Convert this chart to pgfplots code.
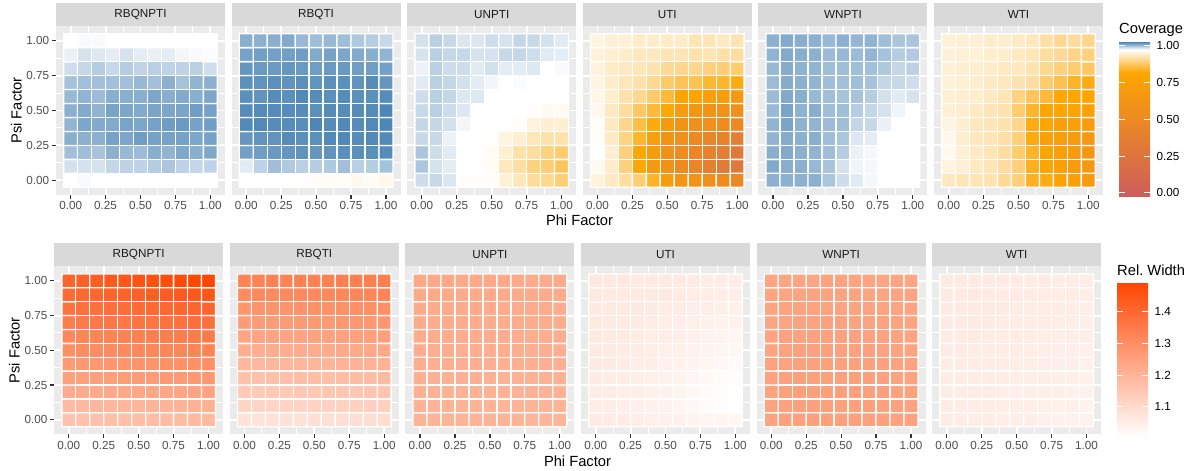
\documentclass[border=0pt]{standalone}
\usepackage{fontspec}
\setmainfont{Liberation Sans}
\usepackage{pgfplots}
\pgfplotsset{compat=1.18}
\definecolor{bgg}{RGB}{235,235,235}
\definecolor{stripg}{RGB}{217,217,217}
\definecolor{txtA}{RGB}{77,77,77}
\definecolor{txtB}{RGB}{26,26,26}
\definecolor{tkc}{RGB}{51,51,51}
\newcommand\ticksz{\fontsize{11.7bp}{13bp}\selectfont}
\newcommand\labsz{\fontsize{14.7bp}{16bp}\selectfont}
\pgfplotsset{
  colormap={cov}{rgb255(0cm)=(205,92,92) rgb255(8cm)=(255,165,0) rgb255(9.5cm)=(255,255,255) rgb255(10cm)=(70,130,180)},
  colormap={rw}{rgb255(0cm)=(255,255,255) rgb255(1cm)=(255,69,0)},
  hm/.style={
    scale only axis, width=169bp, anchor=south west,
    xmin=-0.105, xmax=1.105, ymin=-0.105, ymax=1.105,
    axis background/.style={fill=bgg},
    axis line style={draw=none},
    xtick={0,0.25,0.5,0.75,1}, ytick={0,0.25,0.5,0.75,1},
    minor xtick={0.125,0.375,0.625,0.875}, minor ytick={0.125,0.375,0.625,0.875},
    xticklabels={0.00,0.25,0.50,0.75,1.00}, yticklabels={},
    grid=both,
    major grid style={white, line width=1.9bp},
    minor grid style={white, line width=0.95bp},
    tick align=outside, tick pos=left,
    major tick length=3.7bp, minor tick length=0pt,
    tick style={tkc, line width=1.2bp},
    xticklabel style={font=\ticksz, text=txtA, inner sep=0pt, anchor=north},
    yticklabel style={font=\ticksz, text=txtA, inner sep=0pt, anchor=east},
    xticklabel shift=2.9bp, yticklabel shift=2.9bp,
    every axis title/.style={at={(0.5,1)}, anchor=south, inner sep=0pt, minimum width=169bp, minimum height=23bp, fill=stripg, text=txtB, font=\ticksz},
    every axis y label/.style={at={(axis description cs:-0.235,0.5)}, rotate=90, anchor=center, font=\labsz},
  },
  toprow/.style={hm, height=169bp, colormap name=cov, point meta min=0, point meta max=1},
  botrow/.style={hm, height=168bp, colormap name=rw, point meta min=1.018, point meta max=1.481},
  firsty/.style={yticklabels={0.00,0.25,0.50,0.75,1.00}, ylabel={Psi Factor}},
  innery/.style={ytick style={draw=none}},
  cell/.style={matrix plot*, mesh/cols=11, point meta=explicit, draw=white, line width=1.3bp},
  legax/.style={anchor=north west, scale only axis, width=1bp, height=1bp, hide axis,
    xmin=0, xmax=1, ymin=0, ymax=1, colorbar, colorbar/width=31bp, colorbar shift/.style={}},
  cbar/.style={
    at={(parent axis.north west)}, anchor=north west,
    scale only axis, width=31bp,
    axis line style={draw=none}, axis on top,
    ytick pos=both, yticklabel pos=right,
    yticklabel style={font=\ticksz, text=black, inner sep=0pt, anchor=west},
    tick align=inside,
    major tick length=6.2bp, minor tick length=0pt,
    tick style={draw=white, line width=1bp},
    ytick style={draw=white, line width=1bp},
    yticklabel shift=6.5bp,
  },
}
\begin{document}
\begin{tikzpicture}
\useasboundingbox (0,0) rectangle (1191bp,471bp);
% ---------------- top row: Coverage ----------------
\begin{axis}[toprow, firsty, at={(56bp,276bp)}, title={RBQNPTI}]
\addplot[cell] coordinates {
(0,0)[0.950] (0.1,0)[0.952] (0.2,0)[0.950] (0.3,0)[0.950] (0.4,0)[0.950] (0.5,0)[0.950] (0.6,0)[0.950] (0.7,0)[0.950] (0.8,0)[0.950] (0.9,0)[0.950] (1,0)[0.950]
(0,0.1)[0.962] (0.1,0.1)[0.9615] (0.2,0.1)[0.961] (0.3,0.1)[0.966] (0.4,0.1)[0.9675] (0.5,0.1)[0.9675] (0.6,0.1)[0.970] (0.7,0.1)[0.9725] (0.8,0.1)[0.9675] (0.9,0.1)[0.966] (1,0.1)[0.9675]
(0,0.2)[0.975] (0.1,0.2)[0.976] (0.2,0.2)[0.9735] (0.3,0.2)[0.981] (0.4,0.2)[0.978] (0.5,0.2)[0.977] (0.6,0.2)[0.982] (0.7,0.2)[0.980] (0.8,0.2)[0.9845] (0.9,0.2)[0.982] (1,0.2)[0.9845]
(0,0.3)[0.982] (0.1,0.3)[0.981] (0.2,0.3)[0.981] (0.3,0.3)[0.987] (0.4,0.3)[0.985] (0.5,0.3)[0.989] (0.6,0.3)[0.987] (0.7,0.3)[0.987] (0.8,0.3)[0.987] (0.9,0.3)[0.985] (1,0.3)[0.987]
(0,0.4)[0.980] (0.1,0.4)[0.985] (0.2,0.4)[0.984] (0.3,0.4)[0.984] (0.4,0.4)[0.9865] (0.5,0.4)[0.985] (0.6,0.4)[0.987] (0.7,0.4)[0.989] (0.8,0.4)[0.9905] (0.9,0.4)[0.987] (1,0.4)[0.989]
(0,0.5)[0.981] (0.1,0.5)[0.984] (0.2,0.5)[0.980] (0.3,0.5)[0.9865] (0.4,0.5)[0.985] (0.5,0.5)[0.984] (0.6,0.5)[0.986] (0.7,0.5)[0.985] (0.8,0.5)[0.986] (0.9,0.5)[0.989] (1,0.5)[0.987]
(0,0.6)[0.978] (0.1,0.6)[0.980] (0.2,0.6)[0.977] (0.3,0.6)[0.982] (0.4,0.6)[0.982] (0.5,0.6)[0.982] (0.6,0.6)[0.985] (0.7,0.6)[0.982] (0.8,0.6)[0.984] (0.9,0.6)[0.982] (1,0.6)[0.985]
(0,0.7)[0.9745] (0.1,0.7)[0.975] (0.2,0.7)[0.975] (0.3,0.7)[0.975] (0.4,0.7)[0.975] (0.5,0.7)[0.978] (0.6,0.7)[0.975] (0.7,0.7)[0.981] (0.8,0.7)[0.9745] (0.9,0.7)[0.980] (1,0.7)[0.981]
(0,0.8)[0.9635] (0.1,0.8)[0.9655] (0.2,0.8)[0.970] (0.3,0.8)[0.965] (0.4,0.8)[0.970] (0.5,0.8)[0.967] (0.6,0.8)[0.969] (0.7,0.8)[0.9675] (0.8,0.8)[0.9675] (0.9,0.8)[0.969] (1,0.8)[0.963]
(0,0.9)[0.956] (0.1,0.9)[0.961] (0.2,0.9)[0.959] (0.3,0.9)[0.957] (0.4,0.9)[0.961] (0.5,0.9)[0.957] (0.6,0.9)[0.956] (0.7,0.9)[0.957] (0.8,0.9)[0.953] (0.9,0.9)[0.952] (1,0.9)[0.951]
(0,1)[0.950] (0.1,1)[0.952] (0.2,1)[0.952] (0.3,1)[0.950] (0.4,1)[0.950] (0.5,1)[0.950] (0.6,1)[0.950] (0.7,1)[0.950] (0.8,1)[0.950] (0.9,1)[0.950] (1,1)[0.950]
};
\end{axis}
\begin{axis}[toprow, innery, at={(231.6bp,276bp)}, title={RBQTI}]
\addplot[cell] coordinates {
(0,0)[0.950] (0.1,0)[0.950] (0.2,0)[0.950] (0.3,0)[0.950] (0.4,0)[0.949] (0.5,0)[0.9455] (0.6,0)[0.945] (0.7,0)[0.946] (0.8,0)[0.938] (0.9,0)[0.944] (1,0)[0.938]
(0,0.1)[0.958] (0.1,0.1)[0.9675] (0.2,0.1)[0.9755] (0.3,0.1)[0.9715] (0.4,0.1)[0.969] (0.5,0.1)[0.970] (0.6,0.1)[0.9715] (0.7,0.1)[0.9755] (0.8,0.1)[0.969] (0.9,0.1)[0.970] (1,0.1)[0.9745]
(0,0.2)[0.988] (0.1,0.2)[0.989] (0.2,0.2)[0.9905] (0.3,0.2)[0.992] (0.4,0.2)[0.993] (0.5,0.2)[0.992] (0.6,0.2)[0.993] (0.7,0.2)[0.9945] (0.8,0.2)[0.9945] (0.9,0.2)[0.9945] (1,0.2)[0.996]
(0,0.3)[0.992] (0.1,0.3)[0.993] (0.2,0.3)[0.993] (0.3,0.3)[0.996] (0.4,0.3)[0.9945] (0.5,0.3)[0.9945] (0.6,0.3)[0.997] (0.7,0.3)[0.997] (0.8,0.3)[0.996] (0.9,0.3)[0.997] (1,0.3)[0.997]
(0,0.4)[0.997] (0.1,0.4)[0.997] (0.2,0.4)[0.996] (0.3,0.4)[0.996] (0.4,0.4)[0.995] (0.5,0.4)[0.998] (0.6,0.4)[0.996] (0.7,0.4)[0.997] (0.8,0.4)[0.996] (0.9,0.4)[0.997] (1,0.4)[0.998]
(0,0.5)[0.996] (0.1,0.5)[0.996] (0.2,0.5)[0.996] (0.3,0.5)[0.996] (0.4,0.5)[0.996] (0.5,0.5)[0.9945] (0.6,0.5)[0.996] (0.7,0.5)[0.996] (0.8,0.5)[0.996] (0.9,0.5)[0.996] (1,0.5)[0.998]
(0,0.6)[0.9945] (0.1,0.6)[0.993] (0.2,0.6)[0.996] (0.3,0.6)[0.9945] (0.4,0.6)[0.997] (0.5,0.6)[0.996] (0.6,0.6)[0.9945] (0.7,0.6)[0.996] (0.8,0.6)[0.9945] (0.9,0.6)[0.9945] (1,0.6)[0.996]
(0,0.7)[0.9945] (0.1,0.7)[0.993] (0.2,0.7)[0.9945] (0.3,0.7)[0.993] (0.4,0.7)[0.9945] (0.5,0.7)[0.993] (0.6,0.7)[0.9945] (0.7,0.7)[0.9945] (0.8,0.7)[0.993] (0.9,0.7)[0.996] (1,0.7)[0.992]
(0,0.8)[0.992] (0.1,0.8)[0.9905] (0.2,0.8)[0.9905] (0.3,0.8)[0.992] (0.4,0.8)[0.9905] (0.5,0.8)[0.989] (0.6,0.8)[0.9905] (0.7,0.8)[0.9905] (0.8,0.8)[0.989] (0.9,0.8)[0.989] (1,0.8)[0.988]
(0,0.9)[0.987] (0.1,0.9)[0.9885] (0.2,0.9)[0.988] (0.3,0.9)[0.9885] (0.4,0.9)[0.989] (0.5,0.9)[0.984] (0.6,0.9)[0.987] (0.7,0.9)[0.985] (0.8,0.9)[0.984] (0.9,0.9)[0.982] (1,0.9)[0.980]
(0,1)[0.982] (0.1,1)[0.981] (0.2,1)[0.982] (0.3,1)[0.984] (0.4,1)[0.978] (0.5,1)[0.976] (0.6,1)[0.978] (0.7,1)[0.976] (0.8,1)[0.972] (0.9,1)[0.970] (1,1)[0.965]
};
\end{axis}
\begin{axis}[toprow, innery, at={(407.2bp,276bp)}, title={UNPTI}]
\addplot[cell] coordinates {
(0,0)[0.9635] (0.1,0)[0.965] (0.2,0)[0.960] (0.3,0)[0.949] (0.4,0)[0.949] (0.5,0)[0.948] (0.6,0)[0.926] (0.7,0)[0.908] (0.8,0)[0.890] (0.9,0)[0.883] (1,0)[0.868]
(0,0.1)[0.9725] (0.1,0.1)[0.961] (0.2,0.1)[0.957] (0.3,0.1)[0.950] (0.4,0.1)[0.950] (0.5,0.1)[0.945] (0.6,0.1)[0.911] (0.7,0.1)[0.895] (0.8,0.1)[0.875] (0.9,0.1)[0.868] (1,0.1)[0.851]
(0,0.2)[0.973] (0.1,0.2)[0.9635] (0.2,0.2)[0.958] (0.3,0.2)[0.950] (0.4,0.2)[0.950] (0.5,0.2)[0.945] (0.6,0.2)[0.925] (0.7,0.2)[0.900] (0.8,0.2)[0.893] (0.9,0.2)[0.875] (1,0.2)[0.863]
(0,0.3)[0.965] (0.1,0.3)[0.965] (0.2,0.3)[0.955] (0.3,0.3)[0.950] (0.4,0.3)[0.950] (0.5,0.3)[0.949] (0.6,0.3)[0.932] (0.7,0.3)[0.922] (0.8,0.3)[0.908] (0.9,0.3)[0.900] (1,0.3)[0.900]
(0,0.4)[0.966] (0.1,0.4)[0.966] (0.2,0.4)[0.962] (0.3,0.4)[0.953] (0.4,0.4)[0.950] (0.5,0.4)[0.950] (0.6,0.4)[0.950] (0.7,0.4)[0.947] (0.8,0.4)[0.930] (0.9,0.4)[0.922] (1,0.4)[0.922]
(0,0.5)[0.965] (0.1,0.5)[0.969] (0.2,0.5)[0.9635] (0.3,0.5)[0.959] (0.4,0.5)[0.9505] (0.5,0.5)[0.950] (0.6,0.5)[0.950] (0.7,0.5)[0.950] (0.8,0.5)[0.949] (0.9,0.5)[0.943] (1,0.5)[0.943]
(0,0.6)[0.9635] (0.1,0.6)[0.969] (0.2,0.6)[0.966] (0.3,0.6)[0.959] (0.4,0.6)[0.959] (0.5,0.6)[0.950] (0.6,0.6)[0.950] (0.7,0.6)[0.950] (0.8,0.6)[0.950] (0.9,0.6)[0.950] (1,0.6)[0.950]
(0,0.7)[0.958] (0.1,0.7)[0.969] (0.2,0.7)[0.966] (0.3,0.7)[0.962] (0.4,0.7)[0.9575] (0.5,0.7)[0.9535] (0.6,0.7)[0.950] (0.7,0.7)[0.9515] (0.8,0.7)[0.950] (0.9,0.7)[0.950] (1,0.7)[0.950]
(0,0.8)[0.955] (0.1,0.8)[0.969] (0.2,0.8)[0.9635] (0.3,0.8)[0.9635] (0.4,0.8)[0.958] (0.5,0.8)[0.962] (0.6,0.8)[0.957] (0.7,0.8)[0.9575] (0.8,0.8)[0.959] (0.9,0.8)[0.950] (1,0.8)[0.952]
(0,0.9)[0.961] (0.1,0.9)[0.969] (0.2,0.9)[0.966] (0.3,0.9)[0.965] (0.4,0.9)[0.961] (0.5,0.9)[0.961] (0.6,0.9)[0.965] (0.7,0.9)[0.966] (0.8,0.9)[0.9635] (0.9,0.9)[0.958] (1,0.9)[0.957]
(0,1)[0.962] (0.1,1)[0.969] (0.2,1)[0.965] (0.3,1)[0.960] (0.4,1)[0.9595] (0.5,1)[0.9635] (0.6,1)[0.961] (0.7,1)[0.966] (0.8,1)[0.965] (0.9,1)[0.962] (1,1)[0.958]
};
\end{axis}
\begin{axis}[toprow, innery, at={(582.8bp,276bp)}, title={UTI}]
\addplot[cell] coordinates {
(0,0)[0.929] (0.1,0)[0.913] (0.2,0)[0.893] (0.3,0)[0.869] (0.4,0)[0.824] (0.5,0)[0.704] (0.6,0)[0.624] (0.7,0)[0.592] (0.8,0)[0.560] (0.9,0)[0.528] (1,0)[0.496]
(0,0.1)[0.941] (0.1,0.1)[0.918] (0.2,0.1)[0.874] (0.3,0.1)[0.803] (0.4,0.1)[0.672] (0.5,0.1)[0.576] (0.6,0.1)[0.512] (0.7,0.1)[0.464] (0.8,0.1)[0.400] (0.9,0.1)[0.336] (1,0.1)[0.304]
(0,0.2)[0.950] (0.1,0.2)[0.922] (0.2,0.2)[0.874] (0.3,0.2)[0.803] (0.4,0.2)[0.688] (0.5,0.2)[0.576] (0.6,0.2)[0.528] (0.7,0.2)[0.464] (0.8,0.2)[0.416] (0.9,0.2)[0.368] (1,0.2)[0.304]
(0,0.3)[0.947] (0.1,0.3)[0.915] (0.2,0.3)[0.876] (0.3,0.3)[0.826] (0.4,0.3)[0.720] (0.5,0.3)[0.608] (0.6,0.3)[0.560] (0.7,0.3)[0.496] (0.8,0.3)[0.464] (0.9,0.3)[0.432] (1,0.3)[0.368]
(0,0.4)[0.946] (0.1,0.4)[0.913] (0.2,0.4)[0.882] (0.3,0.4)[0.841] (0.4,0.4)[0.806] (0.5,0.4)[0.672] (0.6,0.4)[0.608] (0.7,0.4)[0.560] (0.8,0.4)[0.560] (0.9,0.4)[0.528] (1,0.4)[0.496]
(0,0.5)[0.938] (0.1,0.5)[0.913] (0.2,0.5)[0.893] (0.3,0.5)[0.859] (0.4,0.5)[0.835] (0.5,0.5)[0.803] (0.6,0.5)[0.688] (0.7,0.5)[0.640] (0.8,0.5)[0.608] (0.9,0.5)[0.592] (1,0.5)[0.560]
(0,0.6)[0.936] (0.1,0.6)[0.921] (0.2,0.6)[0.900] (0.3,0.6)[0.885] (0.4,0.6)[0.862] (0.5,0.6)[0.835] (0.6,0.6)[0.800] (0.7,0.6)[0.784] (0.8,0.6)[0.720] (0.9,0.6)[0.688] (1,0.6)[0.656]
(0,0.7)[0.932] (0.1,0.7)[0.918] (0.2,0.7)[0.909] (0.3,0.7)[0.899] (0.4,0.7)[0.887] (0.5,0.7)[0.862] (0.6,0.7)[0.850] (0.7,0.7)[0.847] (0.8,0.7)[0.829] (0.9,0.7)[0.826] (1,0.7)[0.809]
(0,0.8)[0.929] (0.1,0.8)[0.916] (0.2,0.8)[0.913] (0.3,0.8)[0.909] (0.4,0.8)[0.903] (0.5,0.8)[0.888] (0.6,0.8)[0.882] (0.7,0.8)[0.882] (0.8,0.8)[0.874] (0.9,0.8)[0.868] (1,0.8)[0.865]
(0,0.9)[0.928] (0.1,0.9)[0.922] (0.2,0.9)[0.918] (0.3,0.9)[0.911] (0.4,0.9)[0.911] (0.5,0.9)[0.906] (0.6,0.9)[0.906] (0.7,0.9)[0.900] (0.8,0.9)[0.906] (0.9,0.9)[0.897] (1,0.9)[0.894]
(0,1)[0.931] (0.1,1)[0.924] (0.2,1)[0.924] (0.3,1)[0.916] (0.4,1)[0.919] (0.5,1)[0.916] (0.6,1)[0.916] (0.7,1)[0.906] (0.8,1)[0.906] (0.9,1)[0.913] (1,1)[0.904]
};
\end{axis}
\begin{axis}[toprow, innery, at={(758.4bp,276bp)}, title={WNPTI}]
\addplot[cell] coordinates {
(0,0)[0.981] (0.1,0)[0.981] (0.2,0)[0.981] (0.3,0)[0.981] (0.4,0)[0.973] (0.5,0)[0.9635] (0.6,0)[0.958] (0.7,0)[0.9527] (0.8,0)[0.950] (0.9,0)[0.950] (1,0)[0.950]
(0,0.1)[0.984] (0.1,0.1)[0.982] (0.2,0.1)[0.981] (0.3,0.1)[0.978] (0.4,0.1)[0.9735] (0.5,0.1)[0.961] (0.6,0.1)[0.954] (0.7,0.1)[0.9527] (0.8,0.1)[0.950] (0.9,0.1)[0.950] (1,0.1)[0.950]
(0,0.2)[0.982] (0.1,0.2)[0.984] (0.2,0.2)[0.981] (0.3,0.2)[0.980] (0.4,0.2)[0.976] (0.5,0.2)[0.970] (0.6,0.2)[0.9554] (0.7,0.2)[0.9527] (0.8,0.2)[0.950] (0.9,0.2)[0.950] (1,0.2)[0.948]
(0,0.3)[0.980] (0.1,0.3)[0.983] (0.2,0.3)[0.981] (0.3,0.3)[0.982] (0.4,0.3)[0.976] (0.5,0.3)[0.973] (0.6,0.3)[0.9595] (0.7,0.3)[0.957] (0.8,0.3)[0.950] (0.9,0.3)[0.950] (1,0.3)[0.949]
(0,0.4)[0.980] (0.1,0.4)[0.986] (0.2,0.4)[0.9805] (0.3,0.4)[0.980] (0.4,0.4)[0.977] (0.5,0.4)[0.976] (0.6,0.4)[0.966] (0.7,0.4)[0.965] (0.8,0.4)[0.9554] (0.9,0.4)[0.950] (1,0.4)[0.950]
(0,0.5)[0.978] (0.1,0.5)[0.9865] (0.2,0.5)[0.9805] (0.3,0.5)[0.9824] (0.4,0.5)[0.976] (0.5,0.5)[0.976] (0.6,0.5)[0.970] (0.7,0.5)[0.966] (0.8,0.5)[0.961] (0.9,0.5)[0.954] (1,0.5)[0.950]
(0,0.6)[0.977] (0.1,0.6)[0.984] (0.2,0.6)[0.982] (0.3,0.6)[0.978] (0.4,0.6)[0.976] (0.5,0.6)[0.974] (0.6,0.6)[0.974] (0.7,0.6)[0.970] (0.8,0.6)[0.962] (0.9,0.6)[0.958] (1,0.6)[0.961]
(0,0.7)[0.977] (0.1,0.7)[0.983] (0.2,0.7)[0.981] (0.3,0.7)[0.980] (0.4,0.7)[0.976] (0.5,0.7)[0.975] (0.6,0.7)[0.976] (0.7,0.7)[0.974] (0.8,0.7)[0.966] (0.9,0.7)[0.965] (1,0.7)[0.9635]
(0,0.8)[0.978] (0.1,0.8)[0.983] (0.2,0.8)[0.9805] (0.3,0.8)[0.980] (0.4,0.8)[0.976] (0.5,0.8)[0.976] (0.6,0.8)[0.976] (0.7,0.8)[0.975] (0.8,0.8)[0.972] (0.9,0.8)[0.966] (1,0.8)[0.968]
(0,0.9)[0.980] (0.1,0.9)[0.984] (0.2,0.9)[0.982] (0.3,0.9)[0.981] (0.4,0.9)[0.977] (0.5,0.9)[0.978] (0.6,0.9)[0.977] (0.7,0.9)[0.979] (0.8,0.9)[0.974] (0.9,0.9)[0.970] (1,0.9)[0.971]
(0,1)[0.981] (0.1,1)[0.984] (0.2,1)[0.982] (0.3,1)[0.981] (0.4,1)[0.978] (0.5,1)[0.981] (0.6,1)[0.979] (0.7,1)[0.980] (0.8,1)[0.976] (0.9,1)[0.973] (1,1)[0.973]
};
\end{axis}
\begin{axis}[toprow, innery, at={(934bp,276bp)}, title={WTI}]
\addplot[cell] coordinates {
(0,0)[0.912] (0.1,0)[0.906] (0.2,0)[0.906] (0.3,0)[0.903] (0.4,0)[0.888] (0.5,0)[0.871] (0.6,0)[0.820] (0.7,0)[0.812] (0.8,0)[0.770] (0.9,0)[0.720] (1,0)[0.690]
(0,0.1)[0.931] (0.1,0.1)[0.924] (0.2,0.1)[0.915] (0.3,0.1)[0.906] (0.4,0.1)[0.894] (0.5,0.1)[0.871] (0.6,0.1)[0.818] (0.7,0.1)[0.800] (0.8,0.1)[0.735] (0.9,0.1)[0.690] (1,0.1)[0.656]
(0,0.2)[0.940] (0.1,0.2)[0.924] (0.2,0.2)[0.915] (0.3,0.2)[0.906] (0.4,0.2)[0.894] (0.5,0.2)[0.865] (0.6,0.2)[0.824] (0.7,0.2)[0.800] (0.8,0.2)[0.720] (0.9,0.2)[0.690] (1,0.2)[0.640]
(0,0.3)[0.938] (0.1,0.3)[0.921] (0.2,0.3)[0.912] (0.3,0.3)[0.906] (0.4,0.3)[0.897] (0.5,0.3)[0.871] (0.6,0.3)[0.809] (0.7,0.3)[0.750] (0.8,0.3)[0.720] (0.9,0.3)[0.690] (1,0.3)[0.656]
(0,0.4)[0.932] (0.1,0.4)[0.922] (0.2,0.4)[0.912] (0.3,0.4)[0.909] (0.4,0.4)[0.903] (0.5,0.4)[0.882] (0.6,0.4)[0.812] (0.7,0.4)[0.800] (0.8,0.4)[0.720] (0.9,0.4)[0.720] (1,0.4)[0.690]
(0,0.5)[0.925] (0.1,0.5)[0.921] (0.2,0.5)[0.915] (0.3,0.5)[0.909] (0.4,0.5)[0.903] (0.5,0.5)[0.865] (0.6,0.5)[0.826] (0.7,0.5)[0.800] (0.8,0.5)[0.800] (0.9,0.5)[0.785] (1,0.5)[0.760]
(0,0.6)[0.925] (0.1,0.6)[0.921] (0.2,0.6)[0.921] (0.3,0.6)[0.913] (0.4,0.6)[0.906] (0.5,0.6)[0.875] (0.6,0.6)[0.853] (0.7,0.6)[0.835] (0.8,0.6)[0.803] (0.9,0.6)[0.800] (1,0.6)[0.795]
(0,0.7)[0.926] (0.1,0.7)[0.924] (0.2,0.7)[0.921] (0.3,0.7)[0.915] (0.4,0.7)[0.912] (0.5,0.7)[0.903] (0.6,0.7)[0.894] (0.7,0.7)[0.865] (0.8,0.7)[0.847] (0.9,0.7)[0.824] (1,0.7)[0.812]
(0,0.8)[0.925] (0.1,0.8)[0.922] (0.2,0.8)[0.922] (0.3,0.8)[0.918] (0.4,0.8)[0.915] (0.5,0.8)[0.911] (0.6,0.8)[0.903] (0.7,0.8)[0.885] (0.8,0.8)[0.874] (0.9,0.8)[0.865] (1,0.8)[0.859]
(0,0.9)[0.926] (0.1,0.9)[0.924] (0.2,0.9)[0.926] (0.3,0.9)[0.921] (0.4,0.9)[0.921] (0.5,0.9)[0.915] (0.6,0.9)[0.909] (0.7,0.9)[0.893] (0.8,0.9)[0.888] (0.9,0.9)[0.879] (1,0.9)[0.874]
(0,1)[0.926] (0.1,1)[0.924] (0.2,1)[0.924] (0.3,1)[0.918] (0.4,1)[0.921] (0.5,1)[0.915] (0.6,1)[0.912] (0.7,1)[0.897] (0.8,1)[0.885] (0.9,1)[0.891] (1,1)[0.882]
};
\end{axis}
% ---------------- bottom row: Rel. Width ----------------
\begin{axis}[botrow, firsty, at={(54.2bp,36.7bp)}, title={RBQNPTI}]
\addplot[cell] coordinates {
(0,0)[1.166] (0.1,0)[1.169] (0.2,0)[1.170] (0.3,0)[1.174] (0.4,0)[1.175] (0.5,0)[1.179] (0.6,0)[1.180] (0.7,0)[1.183] (0.8,0)[1.184] (0.9,0)[1.188] (1,0)[1.189]
(0,0.1)[1.189] (0.1,0.1)[1.192] (0.2,0.1)[1.193] (0.3,0.1)[1.197] (0.4,0.1)[1.198] (0.5,0.1)[1.202] (0.6,0.1)[1.203] (0.7,0.1)[1.206] (0.8,0.1)[1.207] (0.9,0.1)[1.211] (1,0.1)[1.212]
(0,0.2)[1.222] (0.1,0.2)[1.225] (0.2,0.2)[1.226] (0.3,0.2)[1.230] (0.4,0.2)[1.231] (0.5,0.2)[1.235] (0.6,0.2)[1.236] (0.7,0.2)[1.239] (0.8,0.2)[1.240] (0.9,0.2)[1.244] (1,0.2)[1.245]
(0,0.3)[1.250] (0.1,0.3)[1.253] (0.2,0.3)[1.254] (0.3,0.3)[1.258] (0.4,0.3)[1.259] (0.5,0.3)[1.263] (0.6,0.3)[1.264] (0.7,0.3)[1.267] (0.8,0.3)[1.268] (0.9,0.3)[1.272] (1,0.3)[1.273]
(0,0.4)[1.268] (0.1,0.4)[1.272] (0.2,0.4)[1.273] (0.3,0.4)[1.277] (0.4,0.4)[1.279] (0.5,0.4)[1.283] (0.6,0.4)[1.285] (0.7,0.4)[1.289] (0.8,0.4)[1.290] (0.9,0.4)[1.294] (1,0.4)[1.296]
(0,0.5)[1.296] (0.1,0.5)[1.300] (0.2,0.5)[1.301] (0.3,0.5)[1.305] (0.4,0.5)[1.307] (0.5,0.5)[1.311] (0.6,0.5)[1.313] (0.7,0.5)[1.317] (0.8,0.5)[1.318] (0.9,0.5)[1.322] (1,0.5)[1.324]
(0,0.6)[1.314] (0.1,0.6)[1.318] (0.2,0.6)[1.320] (0.3,0.6)[1.325] (0.4,0.6)[1.327] (0.5,0.6)[1.332] (0.6,0.6)[1.334] (0.7,0.6)[1.338] (0.8,0.6)[1.340] (0.9,0.6)[1.345] (1,0.6)[1.347]
(0,0.7)[1.342] (0.1,0.7)[1.346] (0.2,0.7)[1.348] (0.3,0.7)[1.353] (0.4,0.7)[1.355] (0.5,0.7)[1.360] (0.6,0.7)[1.362] (0.7,0.7)[1.366] (0.8,0.7)[1.368] (0.9,0.7)[1.373] (1,0.7)[1.375]
(0,0.8)[1.365] (0.1,0.8)[1.370] (0.2,0.8)[1.371] (0.3,0.8)[1.377] (0.4,0.8)[1.380] (0.5,0.8)[1.385] (0.6,0.8)[1.387] (0.7,0.8)[1.392] (0.8,0.8)[1.395] (0.9,0.8)[1.399] (1,0.8)[1.402]
(0,0.9)[1.384] (0.1,0.9)[1.390] (0.2,0.9)[1.393] (0.3,0.9)[1.400] (0.4,0.9)[1.404] (0.5,0.9)[1.411] (0.6,0.9)[1.415] (0.7,0.9)[1.421] (0.8,0.9)[1.425] (0.9,0.9)[1.431] (1,0.9)[1.435]
(0,1)[1.402] (0.1,1)[1.411] (0.2,1)[1.417] (0.3,1)[1.427] (0.4,1)[1.434] (0.5,1)[1.443] (0.6,1)[1.449] (0.7,1)[1.458] (0.8,1)[1.465] (0.9,1)[1.474] (1,1)[1.481]
};
\end{axis}
\begin{axis}[botrow, innery, at={(229.8bp,36.7bp)}, title={RBQTI}]
\addplot[cell] coordinates {
(0,0)[1.087] (0.1,0)[1.088] (0.2,0)[1.090] (0.3,0)[1.091] (0.4,0)[1.092] (0.5,0)[1.094] (0.6,0)[1.095] (0.7,0)[1.097] (0.8,0)[1.098] (0.9,0)[1.100] (1,0)[1.101]
(0,0.1)[1.120] (0.1,0.1)[1.121] (0.2,0.1)[1.123] (0.3,0.1)[1.124] (0.4,0.1)[1.125] (0.5,0.1)[1.127] (0.6,0.1)[1.128] (0.7,0.1)[1.130] (0.8,0.1)[1.131] (0.9,0.1)[1.133] (1,0.1)[1.134]
(0,0.2)[1.148] (0.1,0.2)[1.149] (0.2,0.2)[1.151] (0.3,0.2)[1.152] (0.4,0.2)[1.153] (0.5,0.2)[1.155] (0.6,0.2)[1.156] (0.7,0.2)[1.158] (0.8,0.2)[1.159] (0.9,0.2)[1.161] (1,0.2)[1.162]
(0,0.3)[1.171] (0.1,0.3)[1.172] (0.2,0.3)[1.174] (0.3,0.3)[1.175] (0.4,0.3)[1.176] (0.5,0.3)[1.178] (0.6,0.3)[1.179] (0.7,0.3)[1.181] (0.8,0.3)[1.182] (0.9,0.3)[1.184] (1,0.3)[1.185]
(0,0.4)[1.194] (0.1,0.4)[1.195] (0.2,0.4)[1.197] (0.3,0.4)[1.198] (0.4,0.4)[1.199] (0.5,0.4)[1.201] (0.6,0.4)[1.202] (0.7,0.4)[1.204] (0.8,0.4)[1.205] (0.9,0.4)[1.207] (1,0.4)[1.208]
(0,0.5)[1.217] (0.1,0.5)[1.218] (0.2,0.5)[1.220] (0.3,0.5)[1.221] (0.4,0.5)[1.222] (0.5,0.5)[1.224] (0.6,0.5)[1.225] (0.7,0.5)[1.227] (0.8,0.5)[1.228] (0.9,0.5)[1.230] (1,0.5)[1.231]
(0,0.6)[1.240] (0.1,0.6)[1.241] (0.2,0.6)[1.243] (0.3,0.6)[1.244] (0.4,0.6)[1.245] (0.5,0.6)[1.247] (0.6,0.6)[1.248] (0.7,0.6)[1.250] (0.8,0.6)[1.251] (0.9,0.6)[1.253] (1,0.6)[1.254]
(0,0.7)[1.263] (0.1,0.7)[1.264] (0.2,0.7)[1.266] (0.3,0.7)[1.267] (0.4,0.7)[1.268] (0.5,0.7)[1.270] (0.6,0.7)[1.271] (0.7,0.7)[1.273] (0.8,0.7)[1.274] (0.9,0.7)[1.276] (1,0.7)[1.277]
(0,0.8)[1.282] (0.1,0.8)[1.283] (0.2,0.8)[1.285] (0.3,0.8)[1.286] (0.4,0.8)[1.287] (0.5,0.8)[1.289] (0.6,0.8)[1.290] (0.7,0.8)[1.292] (0.8,0.8)[1.293] (0.9,0.8)[1.295] (1,0.8)[1.296]
(0,0.9)[1.305] (0.1,0.9)[1.306] (0.2,0.9)[1.308] (0.3,0.9)[1.309] (0.4,0.9)[1.310] (0.5,0.9)[1.312] (0.6,0.9)[1.313] (0.7,0.9)[1.315] (0.8,0.9)[1.316] (0.9,0.9)[1.318] (1,0.9)[1.319]
(0,1)[1.324] (0.1,1)[1.325] (0.2,1)[1.327] (0.3,1)[1.328] (0.4,1)[1.329] (0.5,1)[1.331] (0.6,1)[1.332] (0.7,1)[1.334] (0.8,1)[1.335] (0.9,1)[1.337] (1,1)[1.338]
};
\end{axis}
\begin{axis}[botrow, innery, at={(405.4bp,36.7bp)}, title={UNPTI}]
\addplot[cell] coordinates {
(0,0)[1.206] (0.1,0)[1.205] (0.2,0)[1.205] (0.3,0)[1.204] (0.4,0)[1.204] (0.5,0)[1.203] (0.6,0)[1.203] (0.7,0)[1.203] (0.8,0)[1.202] (0.9,0)[1.202] (1,0)[1.202]
(0,0.1)[1.209] (0.1,0.1)[1.208] (0.2,0.1)[1.208] (0.3,0.1)[1.207] (0.4,0.1)[1.207] (0.5,0.1)[1.206] (0.6,0.1)[1.206] (0.7,0.1)[1.206] (0.8,0.1)[1.205] (0.9,0.1)[1.205] (1,0.1)[1.205]
(0,0.2)[1.212] (0.1,0.2)[1.211] (0.2,0.2)[1.211] (0.3,0.2)[1.210] (0.4,0.2)[1.210] (0.5,0.2)[1.209] (0.6,0.2)[1.209] (0.7,0.2)[1.209] (0.8,0.2)[1.208] (0.9,0.2)[1.208] (1,0.2)[1.208]
(0,0.3)[1.215] (0.1,0.3)[1.214] (0.2,0.3)[1.214] (0.3,0.3)[1.213] (0.4,0.3)[1.213] (0.5,0.3)[1.212] (0.6,0.3)[1.212] (0.7,0.3)[1.212] (0.8,0.3)[1.211] (0.9,0.3)[1.211] (1,0.3)[1.211]
(0,0.4)[1.218] (0.1,0.4)[1.217] (0.2,0.4)[1.217] (0.3,0.4)[1.216] (0.4,0.4)[1.216] (0.5,0.4)[1.215] (0.6,0.4)[1.215] (0.7,0.4)[1.215] (0.8,0.4)[1.214] (0.9,0.4)[1.214] (1,0.4)[1.214]
(0,0.5)[1.221] (0.1,0.5)[1.220] (0.2,0.5)[1.220] (0.3,0.5)[1.219] (0.4,0.5)[1.219] (0.5,0.5)[1.218] (0.6,0.5)[1.218] (0.7,0.5)[1.218] (0.8,0.5)[1.217] (0.9,0.5)[1.217] (1,0.5)[1.217]
(0,0.6)[1.224] (0.1,0.6)[1.223] (0.2,0.6)[1.223] (0.3,0.6)[1.222] (0.4,0.6)[1.222] (0.5,0.6)[1.221] (0.6,0.6)[1.221] (0.7,0.6)[1.221] (0.8,0.6)[1.220] (0.9,0.6)[1.220] (1,0.6)[1.220]
(0,0.7)[1.227] (0.1,0.7)[1.226] (0.2,0.7)[1.226] (0.3,0.7)[1.225] (0.4,0.7)[1.225] (0.5,0.7)[1.224] (0.6,0.7)[1.224] (0.7,0.7)[1.224] (0.8,0.7)[1.223] (0.9,0.7)[1.223] (1,0.7)[1.223]
(0,0.8)[1.229] (0.1,0.8)[1.228] (0.2,0.8)[1.228] (0.3,0.8)[1.227] (0.4,0.8)[1.227] (0.5,0.8)[1.226] (0.6,0.8)[1.226] (0.7,0.8)[1.226] (0.8,0.8)[1.225] (0.9,0.8)[1.225] (1,0.8)[1.225]
(0,0.9)[1.231] (0.1,0.9)[1.230] (0.2,0.9)[1.230] (0.3,0.9)[1.229] (0.4,0.9)[1.229] (0.5,0.9)[1.228] (0.6,0.9)[1.228] (0.7,0.9)[1.228] (0.8,0.9)[1.227] (0.9,0.9)[1.227] (1,0.9)[1.227]
(0,1)[1.233] (0.1,1)[1.232] (0.2,1)[1.232] (0.3,1)[1.231] (0.4,1)[1.231] (0.5,1)[1.230] (0.6,1)[1.230] (0.7,1)[1.230] (0.8,1)[1.229] (0.9,1)[1.229] (1,1)[1.229]
};
\end{axis}
\begin{axis}[botrow, innery, at={(581bp,36.7bp)}, title={UTI}]
\addplot[cell] coordinates {
(0,0)[1.068] (0.1,0)[1.067] (0.2,0)[1.065] (0.3,0)[1.062] (0.4,0)[1.058] (0.5,0)[1.054] (0.6,0)[1.050] (0.7,0)[1.046] (0.8,0)[1.042] (0.9,0)[1.040] (1,0)[1.038]
(0,0.1)[1.066] (0.1,0.1)[1.065] (0.2,0.1)[1.062] (0.3,0.1)[1.058] (0.4,0.1)[1.054] (0.5,0.1)[1.049] (0.6,0.1)[1.043] (0.7,0.1)[1.036] (0.8,0.1)[1.029] (0.9,0.1)[1.022] (1,0.1)[1.018]
(0,0.2)[1.066] (0.1,0.2)[1.065] (0.2,0.2)[1.063] (0.3,0.2)[1.059] (0.4,0.2)[1.055] (0.5,0.2)[1.050] (0.6,0.2)[1.045] (0.7,0.2)[1.038] (0.8,0.2)[1.031] (0.9,0.2)[1.024] (1,0.2)[1.019]
(0,0.3)[1.067] (0.1,0.3)[1.066] (0.2,0.3)[1.064] (0.3,0.3)[1.061] (0.4,0.3)[1.057] (0.5,0.3)[1.053] (0.6,0.3)[1.048] (0.7,0.3)[1.042] (0.8,0.3)[1.036] (0.9,0.3)[1.029] (1,0.3)[1.024]
(0,0.4)[1.068] (0.1,0.4)[1.067] (0.2,0.4)[1.065] (0.3,0.4)[1.062] (0.4,0.4)[1.059] (0.5,0.4)[1.055] (0.6,0.4)[1.051] (0.7,0.4)[1.046] (0.8,0.4)[1.041] (0.9,0.4)[1.035] (1,0.4)[1.030]
(0,0.5)[1.069] (0.1,0.5)[1.068] (0.2,0.5)[1.066] (0.3,0.5)[1.064] (0.4,0.5)[1.061] (0.5,0.5)[1.058] (0.6,0.5)[1.054] (0.7,0.5)[1.050] (0.8,0.5)[1.046] (0.9,0.5)[1.041] (1,0.5)[1.037]
(0,0.6)[1.070] (0.1,0.6)[1.069] (0.2,0.6)[1.067] (0.3,0.6)[1.065] (0.4,0.6)[1.063] (0.5,0.6)[1.060] (0.6,0.6)[1.057] (0.7,0.6)[1.054] (0.8,0.6)[1.050] (0.9,0.6)[1.046] (1,0.6)[1.043]
(0,0.7)[1.071] (0.1,0.7)[1.070] (0.2,0.7)[1.069] (0.3,0.7)[1.067] (0.4,0.7)[1.065] (0.5,0.7)[1.063] (0.6,0.7)[1.061] (0.7,0.7)[1.058] (0.8,0.7)[1.055] (0.9,0.7)[1.052] (1,0.7)[1.049]
(0,0.8)[1.072] (0.1,0.8)[1.071] (0.2,0.8)[1.070] (0.3,0.8)[1.069] (0.4,0.8)[1.067] (0.5,0.8)[1.066] (0.6,0.8)[1.064] (0.7,0.8)[1.062] (0.8,0.8)[1.060] (0.9,0.8)[1.057] (1,0.8)[1.055]
(0,0.9)[1.074] (0.1,0.9)[1.073] (0.2,0.9)[1.072] (0.3,0.9)[1.071] (0.4,0.9)[1.070] (0.5,0.9)[1.069] (0.6,0.9)[1.067] (0.7,0.9)[1.065] (0.8,0.9)[1.063] (0.9,0.9)[1.061] (1,0.9)[1.059]
(0,1)[1.076] (0.1,1)[1.075] (0.2,1)[1.074] (0.3,1)[1.073] (0.4,1)[1.072] (0.5,1)[1.071] (0.6,1)[1.070] (0.7,1)[1.068] (0.8,1)[1.066] (0.9,1)[1.064] (1,1)[1.062]
};
\end{axis}
\begin{axis}[botrow, innery, at={(756.6bp,36.7bp)}, title={WNPTI}]
\addplot[cell] coordinates {
(0,0)[1.248] (0.1,0)[1.250] (0.2,0)[1.251] (0.3,0)[1.252] (0.4,0)[1.253] (0.5,0)[1.253] (0.6,0)[1.252] (0.7,0)[1.251] (0.8,0)[1.250] (0.9,0)[1.249] (1,0)[1.248]
(0,0.1)[1.249] (0.1,0.1)[1.251] (0.2,0.1)[1.252] (0.3,0.1)[1.253] (0.4,0.1)[1.254] (0.5,0.1)[1.254] (0.6,0.1)[1.253] (0.7,0.1)[1.252] (0.8,0.1)[1.251] (0.9,0.1)[1.250] (1,0.1)[1.249]
(0,0.2)[1.249] (0.1,0.2)[1.251] (0.2,0.2)[1.253] (0.3,0.2)[1.254] (0.4,0.2)[1.255] (0.5,0.2)[1.255] (0.6,0.2)[1.254] (0.7,0.2)[1.253] (0.8,0.2)[1.252] (0.9,0.2)[1.250] (1,0.2)[1.249]
(0,0.3)[1.248] (0.1,0.3)[1.250] (0.2,0.3)[1.252] (0.3,0.3)[1.253] (0.4,0.3)[1.254] (0.5,0.3)[1.254] (0.6,0.3)[1.253] (0.7,0.3)[1.252] (0.8,0.3)[1.251] (0.9,0.3)[1.249] (1,0.3)[1.248]
(0,0.4)[1.247] (0.1,0.4)[1.249] (0.2,0.4)[1.251] (0.3,0.4)[1.252] (0.4,0.4)[1.253] (0.5,0.4)[1.253] (0.6,0.4)[1.252] (0.7,0.4)[1.251] (0.8,0.4)[1.250] (0.9,0.4)[1.248] (1,0.4)[1.247]
(0,0.5)[1.246] (0.1,0.5)[1.248] (0.2,0.5)[1.250] (0.3,0.5)[1.251] (0.4,0.5)[1.252] (0.5,0.5)[1.252] (0.6,0.5)[1.251] (0.7,0.5)[1.250] (0.8,0.5)[1.249] (0.9,0.5)[1.247] (1,0.5)[1.246]
(0,0.6)[1.245] (0.1,0.6)[1.247] (0.2,0.6)[1.249] (0.3,0.6)[1.250] (0.4,0.6)[1.251] (0.5,0.6)[1.251] (0.6,0.6)[1.250] (0.7,0.6)[1.249] (0.8,0.6)[1.248] (0.9,0.6)[1.246] (1,0.6)[1.245]
(0,0.7)[1.244] (0.1,0.7)[1.246] (0.2,0.7)[1.248] (0.3,0.7)[1.249] (0.4,0.7)[1.250] (0.5,0.7)[1.250] (0.6,0.7)[1.249] (0.7,0.7)[1.248] (0.8,0.7)[1.247] (0.9,0.7)[1.245] (1,0.7)[1.244]
(0,0.8)[1.243] (0.1,0.8)[1.245] (0.2,0.8)[1.247] (0.3,0.8)[1.248] (0.4,0.8)[1.249] (0.5,0.8)[1.249] (0.6,0.8)[1.248] (0.7,0.8)[1.247] (0.8,0.8)[1.246] (0.9,0.8)[1.244] (1,0.8)[1.243]
(0,0.9)[1.242] (0.1,0.9)[1.244] (0.2,0.9)[1.246] (0.3,0.9)[1.247] (0.4,0.9)[1.248] (0.5,0.9)[1.248] (0.6,0.9)[1.247] (0.7,0.9)[1.246] (0.8,0.9)[1.245] (0.9,0.9)[1.243] (1,0.9)[1.242]
(0,1)[1.241] (0.1,1)[1.243] (0.2,1)[1.245] (0.3,1)[1.246] (0.4,1)[1.247] (0.5,1)[1.247] (0.6,1)[1.246] (0.7,1)[1.245] (0.8,1)[1.244] (0.9,1)[1.242] (1,1)[1.241]
};
\end{axis}
\begin{axis}[botrow, innery, at={(932.2bp,36.7bp)}, title={WTI}]
\addplot[cell] coordinates {
(0,0)[1.066] (0.1,0)[1.065] (0.2,0)[1.065] (0.3,0)[1.064] (0.4,0)[1.063] (0.5,0)[1.061] (0.6,0)[1.060] (0.7,0)[1.058] (0.8,0)[1.055] (0.9,0)[1.053] (1,0)[1.050]
(0,0.1)[1.066] (0.1,0.1)[1.065] (0.2,0.1)[1.065] (0.3,0.1)[1.064] (0.4,0.1)[1.063] (0.5,0.1)[1.062] (0.6,0.1)[1.060] (0.7,0.1)[1.058] (0.8,0.1)[1.056] (0.9,0.1)[1.054] (1,0.1)[1.052]
(0,0.2)[1.066] (0.1,0.2)[1.066] (0.2,0.2)[1.065] (0.3,0.2)[1.064] (0.4,0.2)[1.063] (0.5,0.2)[1.062] (0.6,0.2)[1.061] (0.7,0.2)[1.059] (0.8,0.2)[1.057] (0.9,0.2)[1.055] (1,0.2)[1.053]
(0,0.3)[1.066] (0.1,0.3)[1.066] (0.2,0.3)[1.065] (0.3,0.3)[1.065] (0.4,0.3)[1.064] (0.5,0.3)[1.063] (0.6,0.3)[1.062] (0.7,0.3)[1.060] (0.8,0.3)[1.059] (0.9,0.3)[1.057] (1,0.3)[1.055]
(0,0.4)[1.066] (0.1,0.4)[1.066] (0.2,0.4)[1.066] (0.3,0.4)[1.065] (0.4,0.4)[1.064] (0.5,0.4)[1.063] (0.6,0.4)[1.062] (0.7,0.4)[1.061] (0.8,0.4)[1.060] (0.9,0.4)[1.058] (1,0.4)[1.056]
(0,0.5)[1.067] (0.1,0.5)[1.067] (0.2,0.5)[1.066] (0.3,0.5)[1.066] (0.4,0.5)[1.065] (0.5,0.5)[1.064] (0.6,0.5)[1.063] (0.7,0.5)[1.062] (0.8,0.5)[1.061] (0.9,0.5)[1.059] (1,0.5)[1.058]
(0,0.6)[1.067] (0.1,0.6)[1.067] (0.2,0.6)[1.067] (0.3,0.6)[1.066] (0.4,0.6)[1.065] (0.5,0.6)[1.065] (0.6,0.6)[1.064] (0.7,0.6)[1.063] (0.8,0.6)[1.062] (0.9,0.6)[1.061] (1,0.6)[1.059]
(0,0.7)[1.068] (0.1,0.7)[1.068] (0.2,0.7)[1.067] (0.3,0.7)[1.067] (0.4,0.7)[1.066] (0.5,0.7)[1.065] (0.6,0.7)[1.065] (0.7,0.7)[1.064] (0.8,0.7)[1.063] (0.9,0.7)[1.062] (1,0.7)[1.061]
(0,0.8)[1.068] (0.1,0.8)[1.068] (0.2,0.8)[1.068] (0.3,0.8)[1.067] (0.4,0.8)[1.067] (0.5,0.8)[1.066] (0.6,0.8)[1.066] (0.7,0.8)[1.065] (0.8,0.8)[1.064] (0.9,0.8)[1.063] (1,0.8)[1.062]
(0,0.9)[1.069] (0.1,0.9)[1.069] (0.2,0.9)[1.069] (0.3,0.9)[1.068] (0.4,0.9)[1.068] (0.5,0.9)[1.067] (0.6,0.9)[1.067] (0.7,0.9)[1.066] (0.8,0.9)[1.065] (0.9,0.9)[1.064] (1,0.9)[1.063]
(0,1)[1.070] (0.1,1)[1.070] (0.2,1)[1.070] (0.3,1)[1.069] (0.4,1)[1.069] (0.5,1)[1.068] (0.6,1)[1.068] (0.7,1)[1.067] (0.8,1)[1.066] (0.9,1)[1.065] (1,1)[1.064]
};
\end{axis}
% ---------------- legends ----------------
\begin{axis}[legax, at={(1119bp,429.3bp)},
  colormap name=cov, point meta min=-0.026, point meta max=1.026,
  colorbar style={cbar, height=155bp,
    ytick={0,0.25,0.5,0.75,1}, yticklabels={0.00,0.25,0.50,0.75,1.00}}]
\addplot[draw=none] coordinates {(0.5,0.5)};
\end{axis}
\begin{axis}[legax, at={(1117bp,188.7bp)},
  colormap name=rw, point meta min=1.006, point meta max=1.493,
  colorbar style={cbar, height=154.4bp,
    ytick={1.1,1.2,1.3,1.4}, yticklabels={1.1,1.2,1.3,1.4}}]
\addplot[draw=none] coordinates {(0.5,0.5)};
\end{axis}
\node[font=\labsz, anchor=west, inner sep=0pt] at (1119bp,441bp) {Coverage};
\node[font=\labsz, anchor=west, inner sep=0pt] at (1117bp,201bp) {Rel.\ Width};
\node[font=\labsz, inner sep=0pt] at (579.5bp,251bp) {Phi Factor};
\node[font=\labsz, inner sep=0pt] at (577.5bp,10bp) {Phi Factor};
\end{tikzpicture}
\end{document}
